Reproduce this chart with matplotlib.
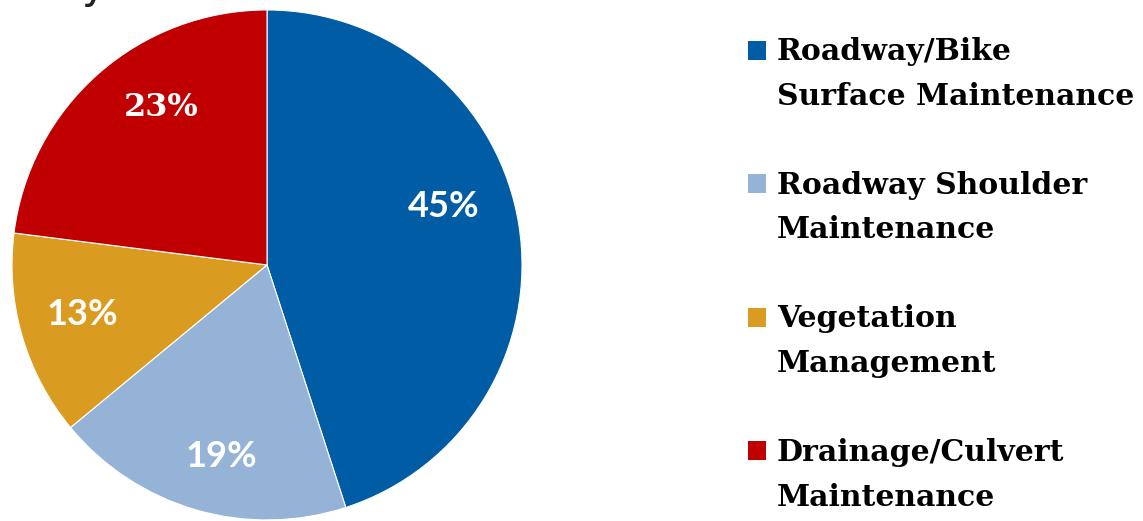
import matplotlib.pyplot as plt
from matplotlib.patches import Patch, Rectangle
from matplotlib.legend_handler import HandlerPatch

categories = ['Roadway/Bike\nSurface Maintenance', 'Roadway Shoulder\nMaintenance',
              'Vegetation\nManagement', 'Drainage/Culvert\nMaintenance']
shares = [45, 19, 13, 23]
colors = ['#005DA5', '#95B3D7', '#DA9C20', '#C00000']

# where the percent labels sit inside the pie (radius units)
label_pos = [(0.694, 0.231), (-0.180, -0.753), (-0.725, -0.196), (-0.416, 0.616)]

fig = plt.figure(figsize=(11.43, 5.21), dpi=100)
ax = fig.add_axes([0.0105, 0.002, 0.4462, 0.9789])

wedges, texts, autotexts = ax.pie(
    shares, colors=colors, startangle=90, counterclock=False,
    autopct='%d%%', pctdistance=0.76,
    wedgeprops=dict(edgecolor='white', linewidth=0.8),
    textprops=dict(color='white', fontsize=26, fontweight='bold', family='Lato'))
for t, p in zip(autotexts, label_pos):
    t.set_position(p)
# the red one came out in the serif face
autotexts[3].set_family('DejaVu Serif')
autotexts[3].set_fontsize(23)
ax.set_xlim(-1, 1)
ax.set_ylim(-1, 1)
ax.set_aspect('equal')

# cropped title from the original slide
fig.text(0.072, 1.004, 'y', fontsize=30, color='#222222', va='baseline', ha='left')


def top_square(legend, orig_handle, xdescent, ydescent, width, height, fontsize):
    # put the square next to the first line of the label
    return Rectangle((-xdescent, -ydescent + 17.8), width, height)


handles = [Patch(facecolor=c, edgecolor='none') for c in colors]
leg = fig.legend(handles, categories, loc='upper left', bbox_to_anchor=(0.6544, 0.929),
                 frameon=False, prop=dict(family='DejaVu Serif', weight='bold', size=21.5),
                 handlelength=0.6, handleheight=0.6, handletextpad=0.37,
                 labelspacing=2.0, borderpad=0, borderaxespad=0,
                 handler_map={Patch: HandlerPatch(patch_func=top_square)})
for t in leg.get_texts():
    t.set_linespacing(1.69)

fig.savefig('out.png', dpi=100)
